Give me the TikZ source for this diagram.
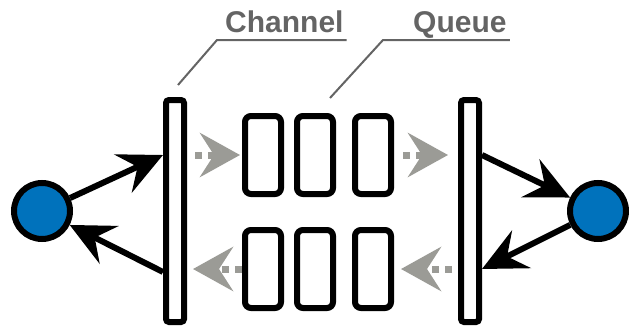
\documentclass[tikz,border=0pt]{standalone}
\usepackage{fontspec}
\setmainfont{Liberation Sans}
\usetikzlibrary{arrows.meta}
\definecolor{dotblue}{RGB}{0,114,188}
\definecolor{flowgray}{RGB}{155,155,150}
\definecolor{labelgray}{RGB}{100,100,100}
\begin{document}
\begin{tikzpicture}[x=1pt,y=-1pt,
 bar/.style={draw=black,line width=6pt,fill=white,rounded corners=3pt,minimum width=18pt,minimum height=222pt,inner sep=0pt},
 slot/.style={draw=black,line width=6pt,fill=white,rounded corners=6pt,minimum width=36pt,minimum height=78pt,inner sep=0pt},
 actor/.style={circle,draw=black,line width=6pt,fill=dotblue,minimum size=56pt,inner sep=0pt},
 blk/.style={line width=6pt,-{Stealth[length=44pt,width=42pt,inset=16pt]}},
 flow/.style={draw=flowgray,line width=7pt,dash pattern=on 7pt off 6pt,-{Stealth[length=40pt,width=44pt,inset=14pt]}},
 lab/.style={font=\bfseries\fontsize{30}{30}\selectfont,text=labelgray,inner sep=0pt,anchor=base west},
 leader/.style={draw=labelgray,line width=2pt}]
\useasboundingbox (0,0) rectangle (629,332);
% bars
\node[bar] (lbar) at (175,211) {};
\node[bar] (rbar) at (470,211) {};
% queue slots
\node[slot] (q1) at (263,155) {};
\node[slot] (q2) at (315,155) {};
\node[slot] (q3) at (373,155) {};
\node[slot] (p1) at (263,269) {};
\node[slot] (p2) at (315,269) {};
\node[slot] (p3) at (373,269) {};
% actors
\node[actor] (lc) at (42,211) {};
\node[actor] (rc) at (598,211) {};
% connection points
\coordinate (lin) at (lbar.west |- q1.west);
\coordinate (lout) at ([yshift=-3pt]lbar.west |- p1.west);
\coordinate (rout) at (rbar.east |- q3.east);
\coordinate (rin) at (rbar.east |- p3.east);
% black arrows
\draw[blk] (lc) -- (lin);
\draw[blk] (lout) -- (lc);
\draw[blk] (rout) -- (rc);
\draw[blk] (rc) -- (rin);
% gray flow arrows
\draw[flow] ([xshift=8pt]lbar.east |- q1.west) -- ([xshift=-2pt]q1.west);
\draw[flow] ([xshift=9pt]q3.east) -- ([xshift=-10pt]rbar.west |- q3.east);
\draw[flow] ([xshift=-6pt]rbar.west |- p3.east) -- ([xshift=7pt]p3.east);
\draw[flow] (p1.west) -- ([xshift=6pt]lbar.east |- p1.west);
% labels
\node[lab] (chlab) at (225,32) {Channel};
\node[lab] (qlab) at (413,32) {Queue};
\coordinate (chk) at (217,40);
\coordinate (qk) at (383,40);
\draw[leader] (chlab.base east |- chk) ++(3pt,0) -- (chk) -- ([shift={(3pt,12pt)}]lbar.north);
\draw[leader] (qlab.base east |- qk) ++(3pt,0) -- (qk) -- ([shift={(15pt,15pt)}]q2.north);
\end{tikzpicture}
\end{document}
